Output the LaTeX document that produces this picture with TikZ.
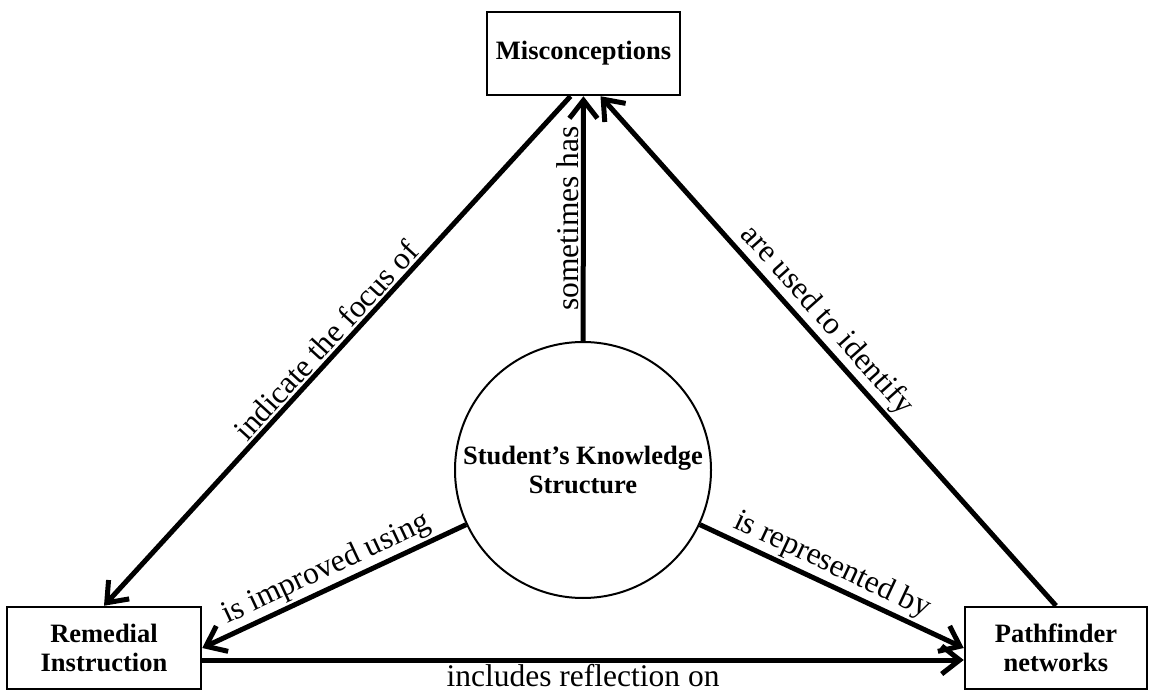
\documentclass[tikz,border=0pt]{standalone}
\usepackage{fontspec}
\setmainfont{Liberation Serif}
\usetikzlibrary{arrows.meta}
\tikzset{
  concept/.style={draw, line width=2.5pt, align=center, inner sep=2pt,
    font=\fontsize{26.5}{29}\selectfont\bfseries},
  link/.style={line width=5pt, -{Straight Barb[length=18pt,width=28pt]}},
  lbl/.style={font=\fontsize{31.5}{34}\selectfont, sloped, above, inner sep=2pt}
}
\begin{document}
\begin{tikzpicture}[x=1pt,y=1pt]
    \useasboundingbox (0,0) rectangle (1149,694);
    % concetti
    \node[concept, minimum width=193pt, minimum height=83pt] (mis) at (583.5,640.5) {Misconceptions};
    \node[concept, minimum width=194pt, minimum height=82pt] (rem) at (104,46) {Remedial\\Instruction};
    \node[concept, minimum width=182pt, minimum height=82pt] (pfn) at (1056,46) {Pathfinder\\networks};
    \node[concept, circle, line width=2pt, minimum size=256pt] (sks) at (583,224) {Student’s Knowledge\\Structure};
    % collegamenti
    \draw[link] (sks) -- (mis) node[lbl, pos=0.5] {sometimes has};
    \draw[link] ([xshift=-13pt]mis.south) -- (rem.north) node[lbl, pos=0.5] {indicate the focus of};
    \draw[link] (pfn.north) -- ([xshift=17pt]mis.south) node[lbl, pos=0.535] {are used to identify};
    \draw[link] (sks) -- (rem.east) node[lbl, pos=0.5] {is improved using};
    \draw[link] (sks) -- (pfn.west) node[lbl, pos=0.47] {is represented by};
    \draw[link] ([yshift=-12pt]rem.east) -- ([yshift=-12pt]pfn.west) node[lbl, below, pos=0.5] {includes reflection on};
\end{tikzpicture}
\end{document}
